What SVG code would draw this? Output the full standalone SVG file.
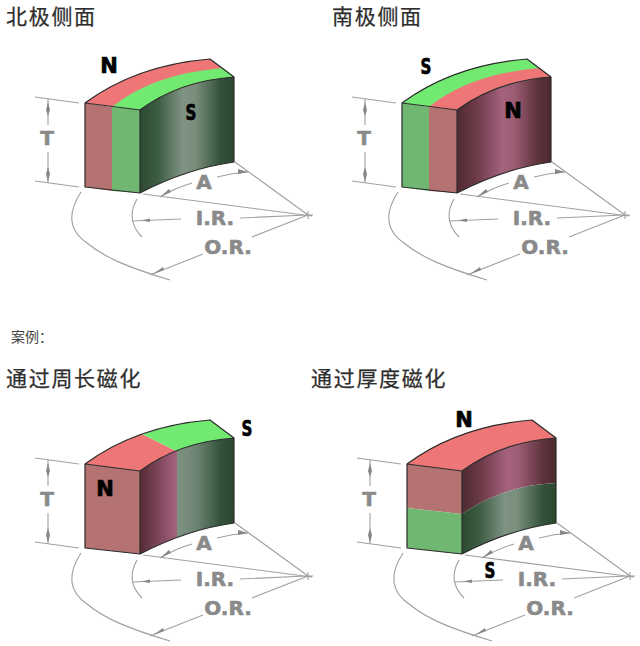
<svg xmlns="http://www.w3.org/2000/svg" xmlns:xlink="http://www.w3.org/1999/xlink" width="640" height="646" viewBox="0 0 640 646">
<style>
.h{font-family:"Noto Sans CJK SC","Noto Sans",sans-serif;font-size:21px;letter-spacing:1.7px;fill:#2e2e2e;stroke:#2e2e2e;stroke-width:.25}
.c{font-family:"Noto Sans CJK SC","Noto Sans",sans-serif;font-size:14px;fill:#444}
.d{font-family:"DejaVu Sans",sans-serif;font-weight:700;font-size:20px;fill:#8a8a8a;stroke:#8a8a8a;stroke-width:.6;text-anchor:middle}
.p{font-family:"DejaVu Sans",sans-serif;font-weight:700;font-size:21px;fill:#000;stroke:#000;stroke-width:.7;text-anchor:middle}
.l{fill:none;stroke:#a0a0a0;stroke-width:1.1}
.a{fill:#888}
.o{fill:none;stroke:#2b2b2b;stroke-width:1.2;stroke-linejoin:round}
.rt{fill:#ee7676}.gt{fill:#72ea72}.rf{fill:#b47272}.gf{fill:#70b872}
</style>
<defs>
<linearGradient id="gg" gradientUnits="userSpaceOnUse" x1="140" y1="0" x2="235" y2="0"><stop offset="0" stop-color="#2b4a30"/><stop offset=".2" stop-color="#3f5f45"/><stop offset=".45" stop-color="#7f9383"/><stop offset=".58" stop-color="#7a8e7c"/><stop offset=".85" stop-color="#33523a"/><stop offset="1" stop-color="#2a472d"/></linearGradient>
<linearGradient id="rg" gradientUnits="userSpaceOnUse" x1="140" y1="0" x2="235" y2="0"><stop offset="0" stop-color="#4f2a31"/><stop offset=".2" stop-color="#6d3a48"/><stop offset=".48" stop-color="#a5627f"/><stop offset=".6" stop-color="#9c5c74"/><stop offset=".85" stop-color="#5e333c"/><stop offset="1" stop-color="#4a282d"/></linearGradient>
<linearGradient id="mg" gradientUnits="userSpaceOnUse" x1="140" y1="0" x2="235" y2="0"><stop offset="0" stop-color="#552b35"/><stop offset=".385" stop-color="#a5627f"/><stop offset=".385" stop-color="#7f9383"/><stop offset=".6" stop-color="#6d8372"/><stop offset=".85" stop-color="#33523a"/><stop offset="1" stop-color="#2a472d"/></linearGradient>
<g id="dims">
<path class="l" d="M35,97L79,103M35,181L79,187M48,99V125M48,152V183"/>
<path class="a" d="M48,102L50,110L48,116L46,110ZM48,182L50,174L48,167L46,174Z"/>
<path class="l" d="M81,192C68,212 68,230 87,243C105,258 130,268 170,280M137,199Q125,220 142,237"/>
<path class="l" d="M235,162L308,215M143,194L312,216M132,221L181,219M240,218L307,215M150,275L203,254M252,237L308,215M302,215H313M308,211V219"/>
<path class="l" d="M160,197Q175,188 192,183M217,177Q232,173 248,172"/>
<path class="a" d="M160,197L169,189L171,192ZM248,172L238,169L238,174ZM141,220.500L150,218.500L150,222ZM153,274L163,267L164,270Z"/>
</g>
</defs>
<rect width="640" height="646" fill="#fff"/>
<text class="h" x="6" y="24">北极侧面</text>
<text class="h" x="332" y="24">南极侧面</text>
<text class="c" x="11" y="342">案例：</text>
<text class="h" x="6" y="386">通过周长磁化</text>
<text class="h" x="311" y="386">通过厚度磁化</text>

<g id="connectors">
<use href="#dims"/>
<use href="#dims" transform="translate(317,0)"/>
<use href="#dims" transform="translate(0,361)"/>
<use href="#dims" transform="translate(322,361)"/>
</g>

<g id="magnet-north-side">
<path class="rt" d="M85,103Q136.500,65 210,59L234,77Q179,81 140,110Z"/>
<path class="gt" d="M112,107Q152,74 223,68L234,77Q179,81 140,110Z"/>
<path class="rf" d="M85,103L112,107V191L85,187Z"/>
<path class="gf" d="M112,107L140,110V193L112,191Z"/>
<path fill="url(#gg)" d="M140,110Q179,81 234,77V162Q187,168.500 140,193Z"/>
<path class="o" d="M85,103Q136.500,65 210,59L234,77V162Q187,168.500 140,193L85,187ZM85,103L140,110V193M140,110Q179,81 234,77"/>
<text class="p" x="109" y="73">N</text>
<text class="p" x="191" y="120" transform="translate(191,0) scale(.72,1) translate(-191,0)">S</text>
<text class="d" x="47" y="145">T</text><text class="d" x="204" y="189" font-size="22">A</text><text class="d" x="215" y="225">I.R.</text><text class="d" x="228" y="254">O.R.</text>
</g>

<g id="magnet-south-side" transform="translate(317,0)">
<path class="gt" d="M85,103Q136.500,65 210,59L234,77Q179,81 140,110Z"/>
<path class="rt" d="M112,107Q152,74 223,68L234,77Q179,81 140,110Z"/>
<path class="gf" d="M85,103L112,107V191L85,187Z"/>
<path class="rf" d="M112,107L140,110V193L112,191Z"/>
<path fill="url(#rg)" d="M140,110Q179,81 234,77V162Q187,168.500 140,193Z"/>
<path class="o" d="M85,103Q136.500,65 210,59L234,77V162Q187,168.500 140,193L85,187ZM85,103L140,110V193M140,110Q179,81 234,77"/>
<text class="p" x="109" y="74" transform="translate(109,0) scale(.72,1) translate(-109,0)">S</text>
<text class="p" x="196" y="118">N</text>
<text class="d" x="47" y="145">T</text><text class="d" x="204" y="189" font-size="22">A</text><text class="d" x="215" y="225">I.R.</text><text class="d" x="228" y="254">O.R.</text>
</g>

<g id="magnet-circumference" transform="translate(0,361)">
<path class="rt" d="M85,103Q110.750,84 142,73L176,90Q156.400,97.800 140,110Z"/>
<path class="gt" d="M142,73Q173.250,62 210,59L234,77Q202.100,79.300 176,90Z"/>
<path class="rf" d="M85,103L140,110V193L85,187Z"/>
<path fill="url(#mg)" d="M140,110Q179,81 234,77V162Q187,168.500 140,193Z"/>
<path class="o" d="M85,103Q136.500,65 210,59L234,77V162Q187,168.500 140,193L85,187ZM85,103L140,110V193M140,110Q179,81 234,77"/>
<text class="p" x="105" y="135">N</text>
<text class="p" x="247" y="75" transform="translate(247,0) scale(.72,1) translate(-247,0)">S</text>
<text class="d" x="47" y="145">T</text><text class="d" x="204" y="189" font-size="22">A</text><text class="d" x="215" y="225">I.R.</text><text class="d" x="228" y="254">O.R.</text>
</g>

<g id="magnet-thickness" transform="translate(322,361)">
<path class="rt" d="M85,103Q136.500,65 210,59L234,77Q179,81 140,110Z"/>
<path class="rf" d="M85,103L140,110V153L85,147Z"/>
<path class="gf" d="M85,147L140,153V193L85,187Z"/>
<path fill="url(#rg)" d="M140,110Q179,81 234,77V122Q182,124 140,153Z"/>
<path fill="url(#gg)" d="M140,153Q182,124 234,122V162Q187,168.500 140,193Z"/>
<path class="o" d="M85,103Q136.500,65 210,59L234,77V162Q187,168.500 140,193L85,187ZM85,103L140,110V193M140,110Q179,81 234,77"/>
<text class="p" x="142" y="66">N</text>
<text class="p" x="168" y="217" transform="translate(168,0) scale(.72,1) translate(-168,0)">S</text>
<text class="d" x="47" y="145">T</text><text class="d" x="204" y="189" font-size="22">A</text><text class="d" x="215" y="225">I.R.</text><text class="d" x="228" y="254">O.R.</text>
</g>
</svg>
